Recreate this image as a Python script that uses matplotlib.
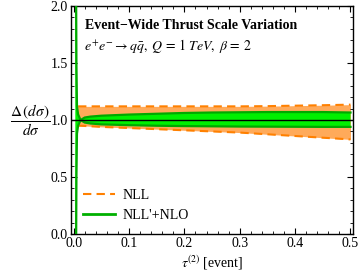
import numpy as np
import matplotlib
matplotlib.use('Agg')
import matplotlib.pyplot as plt
from matplotlib.ticker import MultipleLocator

plt.rcParams['font.family'] = ['Liberation Serif', 'DejaVu Serif']
plt.rcParams['mathtext.fontset'] = 'stix'

# values
tau = [0.003, 0.004, 0.005, 0.006, 0.008, 0.0125, 0.02, 0.03, 0.05, 0.1,
       0.15, 0.2, 0.25, 0.3, 0.35, 0.4, 0.45, 0.5]

nll_tau = [0.005, 0.008, 0.01, 0.02, 0.05, 0.1, 0.15, 0.2, 0.25, 0.3,
           0.35, 0.4, 0.45, 0.5]
nll_hi = [1.12, 1.12, 1.12, 1.12, 1.12, 1.12, 1.12, 1.12, 1.12, 1.12,
          1.122, 1.126, 1.13, 1.135]
nll_lo = [0.955, 0.952, 0.95, 0.948, 0.94, 0.93, 0.92, 0.91, 0.90, 0.89,
          0.875, 0.86, 0.845, 0.83]

nlo_hi = [4.0, 2.6, 1.5, 1.12, 1.05, 1.0, 1.022, 1.03, 1.038, 1.048,
          1.055, 1.062, 1.066, 1.068, 1.07, 1.07, 1.07, 1.066]
nlo_lo = [-2.0, -0.6, 0.5, 0.88, 0.95, 1.0, 0.978, 0.97, 0.962, 0.955,
          0.95, 0.947, 0.945, 0.943, 0.942, 0.941, 0.94, 0.94]

fig = plt.figure(figsize=(3.58, 2.75), dpi=100)
ax = fig.add_axes([0.198, 0.149, 0.788, 0.829])

ax.fill_between(nll_tau, nll_lo, nll_hi, color='#ffaa5a', lw=0, zorder=1)
ax.plot(nll_tau[1:], nll_hi[1:], color='#ff8000', lw=1.5, dashes=(4, 2.5), zorder=2)
ax.plot(nll_tau[1:], nll_lo[1:], color='#ff8000', lw=1.5, dashes=(4, 2.5), zorder=2)

ax.fill_between(tau, nlo_lo, nlo_hi, color='#00f000', lw=0, zorder=3)
ax.plot(tau, nlo_hi, color='#00a800', lw=1.6, zorder=4)
ax.plot(tau, nlo_lo, color='#00a800', lw=1.6, zorder=4)
ax.axhline(1.0, color='black', lw=1.0, zorder=5)

# legend handles
ax.plot([], [], color='#ff8000', lw=1.5, dashes=(4, 2.5), label='NLL')
ax.plot([], [], color='#00b000', lw=2.0, label="NLL'+NLO")
ax.legend(loc='lower left', bbox_to_anchor=(0.0, 0.0), frameon=False,
          fontsize=10, handlelength=2.3, handletextpad=0.5, labelspacing=0.45)

ax.set_xlim(-0.005, 0.5045)
ax.set_ylim(0, 2)
ax.xaxis.set_major_locator(MultipleLocator(0.1))
ax.xaxis.set_minor_locator(MultipleLocator(0.02))
ax.yaxis.set_major_locator(MultipleLocator(0.5))
ax.yaxis.set_minor_locator(MultipleLocator(0.1))
ax.tick_params(which='both', direction='in', top=True, right=True, labelsize=10, pad=2)
ax.tick_params(which='major', length=4, width=0.8)
ax.tick_params(which='minor', length=2, width=0.6)
ax.xaxis.set_major_formatter(plt.FuncFormatter(lambda v, p: '%.1f' % v))
ax.yaxis.set_major_formatter(plt.FuncFormatter(lambda v, p: '%.1f' % v))
for s in ax.spines.values():
    s.set_linewidth(1.0)

ax.text(0.05, 0.915, 'Event\u2212Wide Thrust Scale Variation', transform=ax.transAxes,
        fontsize=10, fontweight='bold', va='center')
ax.text(0.045, 0.825, r'$e^{+}e^{-}\rightarrow q\bar{q},\; Q\,=\,1\ TeV,\; \beta\,=\,2$',
        transform=ax.transAxes, fontsize=10, va='center')

ax.set_xlabel(r'$\tau^{(2)}$ [event]', fontsize=10, labelpad=3)
fig.text(0.083, 0.565, r'$\dfrac{\Delta\,(d\sigma)}{d\sigma}$', fontsize=11,
         ha='center', va='center')

fig.savefig('out.png', dpi=100)
